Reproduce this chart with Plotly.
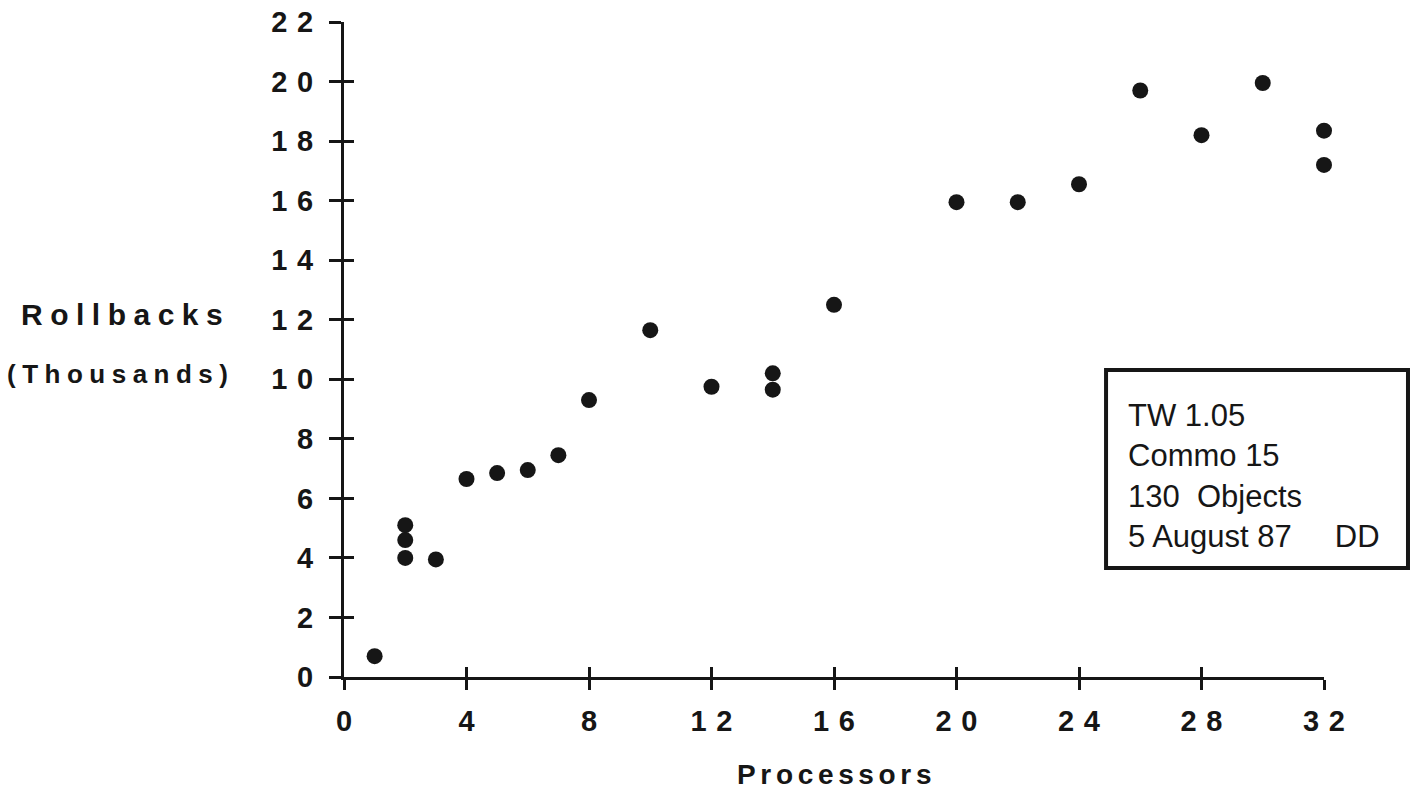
import plotly.graph_objects as go

# ---- data ----
processors = [1, 2, 2, 2, 3, 4, 5, 6, 7, 8, 10, 12, 14, 14, 16, 20, 22, 24, 26, 28, 30, 32, 32]
rollbacks_k = [0.7, 5.1, 4.6, 4.0, 3.95, 6.65, 6.85, 6.95, 7.45, 9.3, 11.65, 9.75, 10.2, 9.65,
               12.5, 15.95, 15.95, 16.55, 19.7, 18.2, 19.95, 18.35, 17.2]

x_ticks = [0, 4, 8, 12, 16, 20, 24, 28, 32]
y_ticks = [0, 2, 4, 6, 8, 10, 12, 14, 16, 18, 20, 22]
info_lines = ["TW 1.05", "Commo 15", "130  Objects", "5 August 87     DD"]

X_RANGE = [0, 32]
Y_RANGE = [0, 22]

def spaced(n, sp="\u2004"):
    return sp.join(str(n))

def letter_spaced(s, sp="\u2005"):
    return sp.join(s)

INK = "#161616"
FONT = "Liberation Sans"

fig = go.Figure()
fig.add_trace(go.Scatter(
    x=processors, y=rollbacks_k, mode="markers",
    marker=dict(size=16, color=INK, line=dict(width=0)),
    cliponaxis=False, showlegend=False, hoverinfo="x+y"))
# empty trace to activate the overlay axes (inner half of crossing ticks)
fig.add_trace(go.Scatter(x=[None], y=[None], xaxis="x2", yaxis="y2",
                         showlegend=False, hoverinfo="skip"))

axis_common = dict(showgrid=False, zeroline=False, automargin=False)
tickfont = dict(family=FONT, size=29, color=INK, weight="bold")

fig.update_layout(
    width=1412, height=800,
    margin=dict(l=344, r=88, t=22, b=123),
    paper_bgcolor="white", plot_bgcolor="white",
    font=dict(family=FONT, color=INK),
    xaxis=dict(range=X_RANGE, tickmode="array", tickvals=x_ticks,
               ticktext=[spaced(v) for v in x_ticks],
               ticks="outside", ticklen=10, tickwidth=3, tickcolor=INK,
               showline=True, linewidth=3, linecolor=INK,
               tickfont=tickfont, ticklabelstandoff=6, **axis_common),
    yaxis=dict(range=Y_RANGE, tickmode="array", tickvals=y_ticks,
               ticktext=[spaced(v) for v in y_ticks],
               ticks="outside", ticklen=12, tickwidth=3, tickcolor=INK,
               showline=True, linewidth=3, linecolor=INK,
               tickfont=tickfont, ticklabelstandoff=10, **axis_common),
    xaxis2=dict(range=X_RANGE, overlaying="x", anchor="y2", side="bottom",
                tickmode="array", tickvals=x_ticks, ticks="inside", ticklen=10,
                tickwidth=3, tickcolor=INK, showticklabels=False, showline=False,
                **axis_common),
    yaxis2=dict(range=Y_RANGE, overlaying="y", anchor="x2", side="left",
                tickmode="array", tickvals=y_ticks, ticks="inside", ticklen=10,
                tickwidth=3, tickcolor=INK, showticklabels=False, showline=False,
                **axis_common),
)

# axis titles
fig.add_annotation(xref="paper", yref="paper", x=-0.2265, y=0.553,
                   xanchor="center", yanchor="middle",
                   text=letter_spaced("Rollbacks"), showarrow=False,
                   font=dict(family=FONT, size=30, color=INK, weight="bold"))
fig.add_annotation(xref="paper", yref="paper", x=-0.231, y=0.4626,
                   xanchor="center", yanchor="middle",
                   text=letter_spaced("(Thousands)"), showarrow=False,
                   font=dict(family=FONT, size=26, color=INK, weight="bold"))
fig.add_annotation(xref="paper", yref="paper", x=0.5, y=-0.1496,
                   xanchor="center", yanchor="middle",
                   text=letter_spaced("Processors", "\u2006"), showarrow=False,
                   font=dict(family=FONT, size=28, color=INK, weight="bold"))

# info box
fig.add_shape(type="rect", xref="paper", yref="paper",
              x0=0.7776, x1=1.0857, y0=0.1664, y1=0.4687,
              line=dict(color=INK, width=4), fillcolor="rgba(0,0,0,0)")
fig.add_annotation(xref="paper", yref="paper", x=0.798, y=0.3076,
                   xanchor="left", yanchor="middle", align="left",
                   text="<br>".join(info_lines), showarrow=False,
                   font=dict(family=FONT, size=31, color=INK))

# remove the default 8px page margin so the figure sits at the window origin
fig.write_html("out.html",
               config={"displayModeBar": False},
               post_script="document.body.style.margin='0';"
                           "document.body.style.overflow='hidden';")
